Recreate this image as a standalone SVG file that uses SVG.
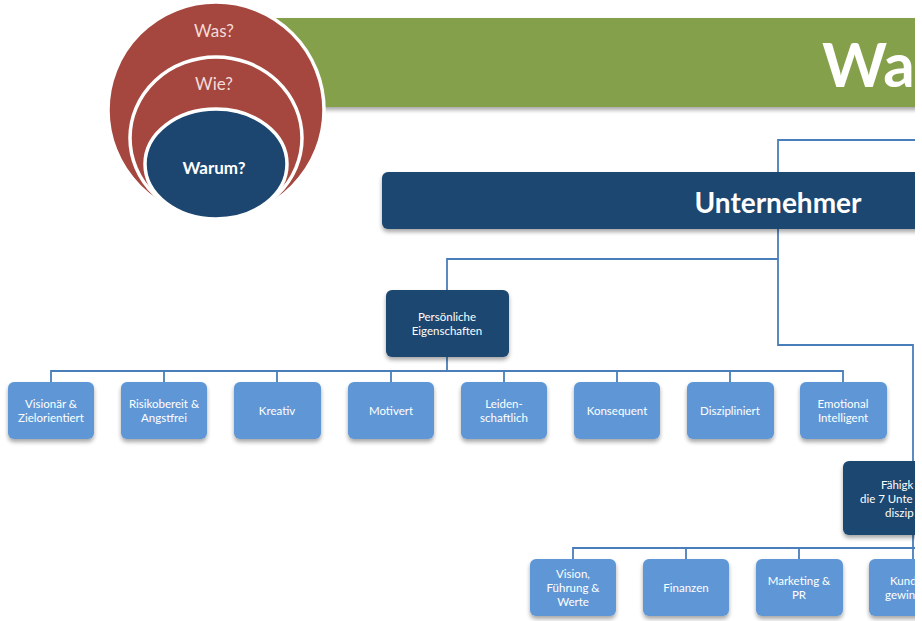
<svg xmlns="http://www.w3.org/2000/svg" width="922" height="621" viewBox="0 0 922 621">
<defs>
<clipPath id="cp"><rect x="0" y="0" width="915" height="621"/></clipPath>
<filter id="sh" x="-10%" y="-10%" width="130%" height="140%">
<feGaussianBlur in="SourceAlpha" stdDeviation="2"/>
<feOffset dx="0" dy="3" result="b"/>
<feComponentTransfer><feFuncA type="linear" slope="0.35"/></feComponentTransfer>
<feMerge><feMergeNode/><feMergeNode in="SourceGraphic"/></feMerge>
</filter>
</defs>
<style>
text{font-family:Lato,"Open Sans","Liberation Sans",sans-serif;fill:#fff;text-anchor:middle}
.dark{fill:#1c4670}
.leaf{fill:#5e97d6}
.ln{fill:none;stroke:#4a7ebb;stroke-width:1.8}
.s{font-size:11.5px}
.red{fill:#a5473f;stroke:#fff;stroke-width:3.5}
.rt{fill:#f3dcd9;font-size:17px}
</style>
<rect width="922" height="621" fill="#fff"/>
<g clip-path="url(#cp)">
<g id="banner">
<rect x="272" y="18" width="660" height="89" fill="#84a04c" filter="url(#sh)"/>
<text x="822" y="87" style="font-size:62px;font-weight:bold;text-anchor:start">War</text>
</g>
<g id="circles">
<circle class="red" cx="216" cy="110" r="108"/>
<ellipse class="red" cx="216" cy="138" rx="86" ry="81"/>
<ellipse cx="216" cy="164" rx="71" ry="55" fill="#1c4670" stroke="#fff" stroke-width="3.5"/>
<text class="rt" x="214" y="37">Was?</text>
<text class="rt" x="214" y="90">Wie?</text>
<text x="214" y="174" style="font-size:17px;font-weight:bold">Warum?</text>
</g>
<g id="connectors">
<path class="ln" d="M778 172V140H930"/>
<path class="ln" d="M778 229V345H913V461"/>
<path class="ln" d="M778 259H447V290"/>
<path class="ln" d="M447 357V371M51 382V371H843V382M164 371V382M277 371V382M391 371V382M504 371V382M617 371V382M730 371V382"/>
<path class="ln" d="M913 535V548M573 559V548H930M686 548V559M799 548V559M913 548V559"/>
</g>
<g id="unternehmer">
<rect class="dark" x="382" y="172" width="560" height="57" rx="6" filter="url(#sh)"/>
<text x="778" y="213" style="font-size:28px;font-weight:bold">Unternehmer</text>
</g>
<g id="persoenliche">
<rect class="dark" x="386" y="290" width="123" height="67" rx="6" filter="url(#sh)"/>
<text class="s" x="447" y="321">Persönliche</text>
<text class="s" x="447" y="335">Eigenschaften</text>
</g>
<g id="n1"><rect class="leaf" x="8" y="382" width="86" height="57" rx="6" filter="url(#sh)"/><text class="s" x="51" y="408">Visionär &amp;</text><text class="s" x="51" y="422">Zielorientiert</text></g>
<g id="n2"><rect class="leaf" x="121" y="382" width="86" height="57" rx="6" filter="url(#sh)"/><text class="s" x="164" y="408">Risikobereit &amp;</text><text class="s" x="164" y="422">Angstfrei</text></g>
<g id="n3"><rect class="leaf" x="234" y="382" width="87" height="57" rx="6" filter="url(#sh)"/><text class="s" x="277" y="415">Kreativ</text></g>
<g id="n4"><rect class="leaf" x="348" y="382" width="86" height="57" rx="6" filter="url(#sh)"/><text class="s" x="391" y="415">Motivert</text></g>
<g id="n5"><rect class="leaf" x="461" y="382" width="86" height="57" rx="6" filter="url(#sh)"/><text class="s" x="504" y="408">Leiden-</text><text class="s" x="504" y="422">schaftlich</text></g>
<g id="n6"><rect class="leaf" x="574" y="382" width="86" height="57" rx="6" filter="url(#sh)"/><text class="s" x="617" y="415">Konsequent</text></g>
<g id="n7"><rect class="leaf" x="687" y="382" width="87" height="57" rx="6" filter="url(#sh)"/><text class="s" x="730" y="415">Diszipliniert</text></g>
<g id="n8"><rect class="leaf" x="800" y="382" width="87" height="57" rx="6" filter="url(#sh)"/><text class="s" x="843" y="408">Emotional</text><text class="s" x="843" y="422">Intelligent</text></g>
<g id="faehigkeiten">
<rect class="dark" x="843" y="461" width="140" height="74" rx="6" filter="url(#sh)"/>
<text class="s" x="881" y="489" style="text-anchor:start">Fähigk</text>
<text class="s" x="860" y="503" style="text-anchor:start">die 7 Unte</text>
<text class="s" x="885" y="517" style="text-anchor:start">diszip</text>
</g>
<g id="m1"><rect class="leaf" x="530" y="559" width="86" height="57" rx="6" filter="url(#sh)"/><text class="s" x="573" y="578">Vision,</text><text class="s" x="573" y="592">Führung &amp;</text><text class="s" x="573" y="606">Werte</text></g>
<g id="m2"><rect class="leaf" x="643" y="559" width="86" height="57" rx="6" filter="url(#sh)"/><text class="s" x="686" y="592">Finanzen</text></g>
<g id="m3"><rect class="leaf" x="756" y="559" width="87" height="57" rx="6" filter="url(#sh)"/><text class="s" x="799" y="585">Marketing &amp;</text><text class="s" x="799" y="599">PR</text></g>
<g id="m4"><rect class="leaf" x="869" y="559" width="87" height="57" rx="6" filter="url(#sh)"/><text class="s" x="890" y="585" style="text-anchor:start">Kund</text><text class="s" x="885" y="599" style="text-anchor:start">gewin</text></g>
</g>
</svg>
